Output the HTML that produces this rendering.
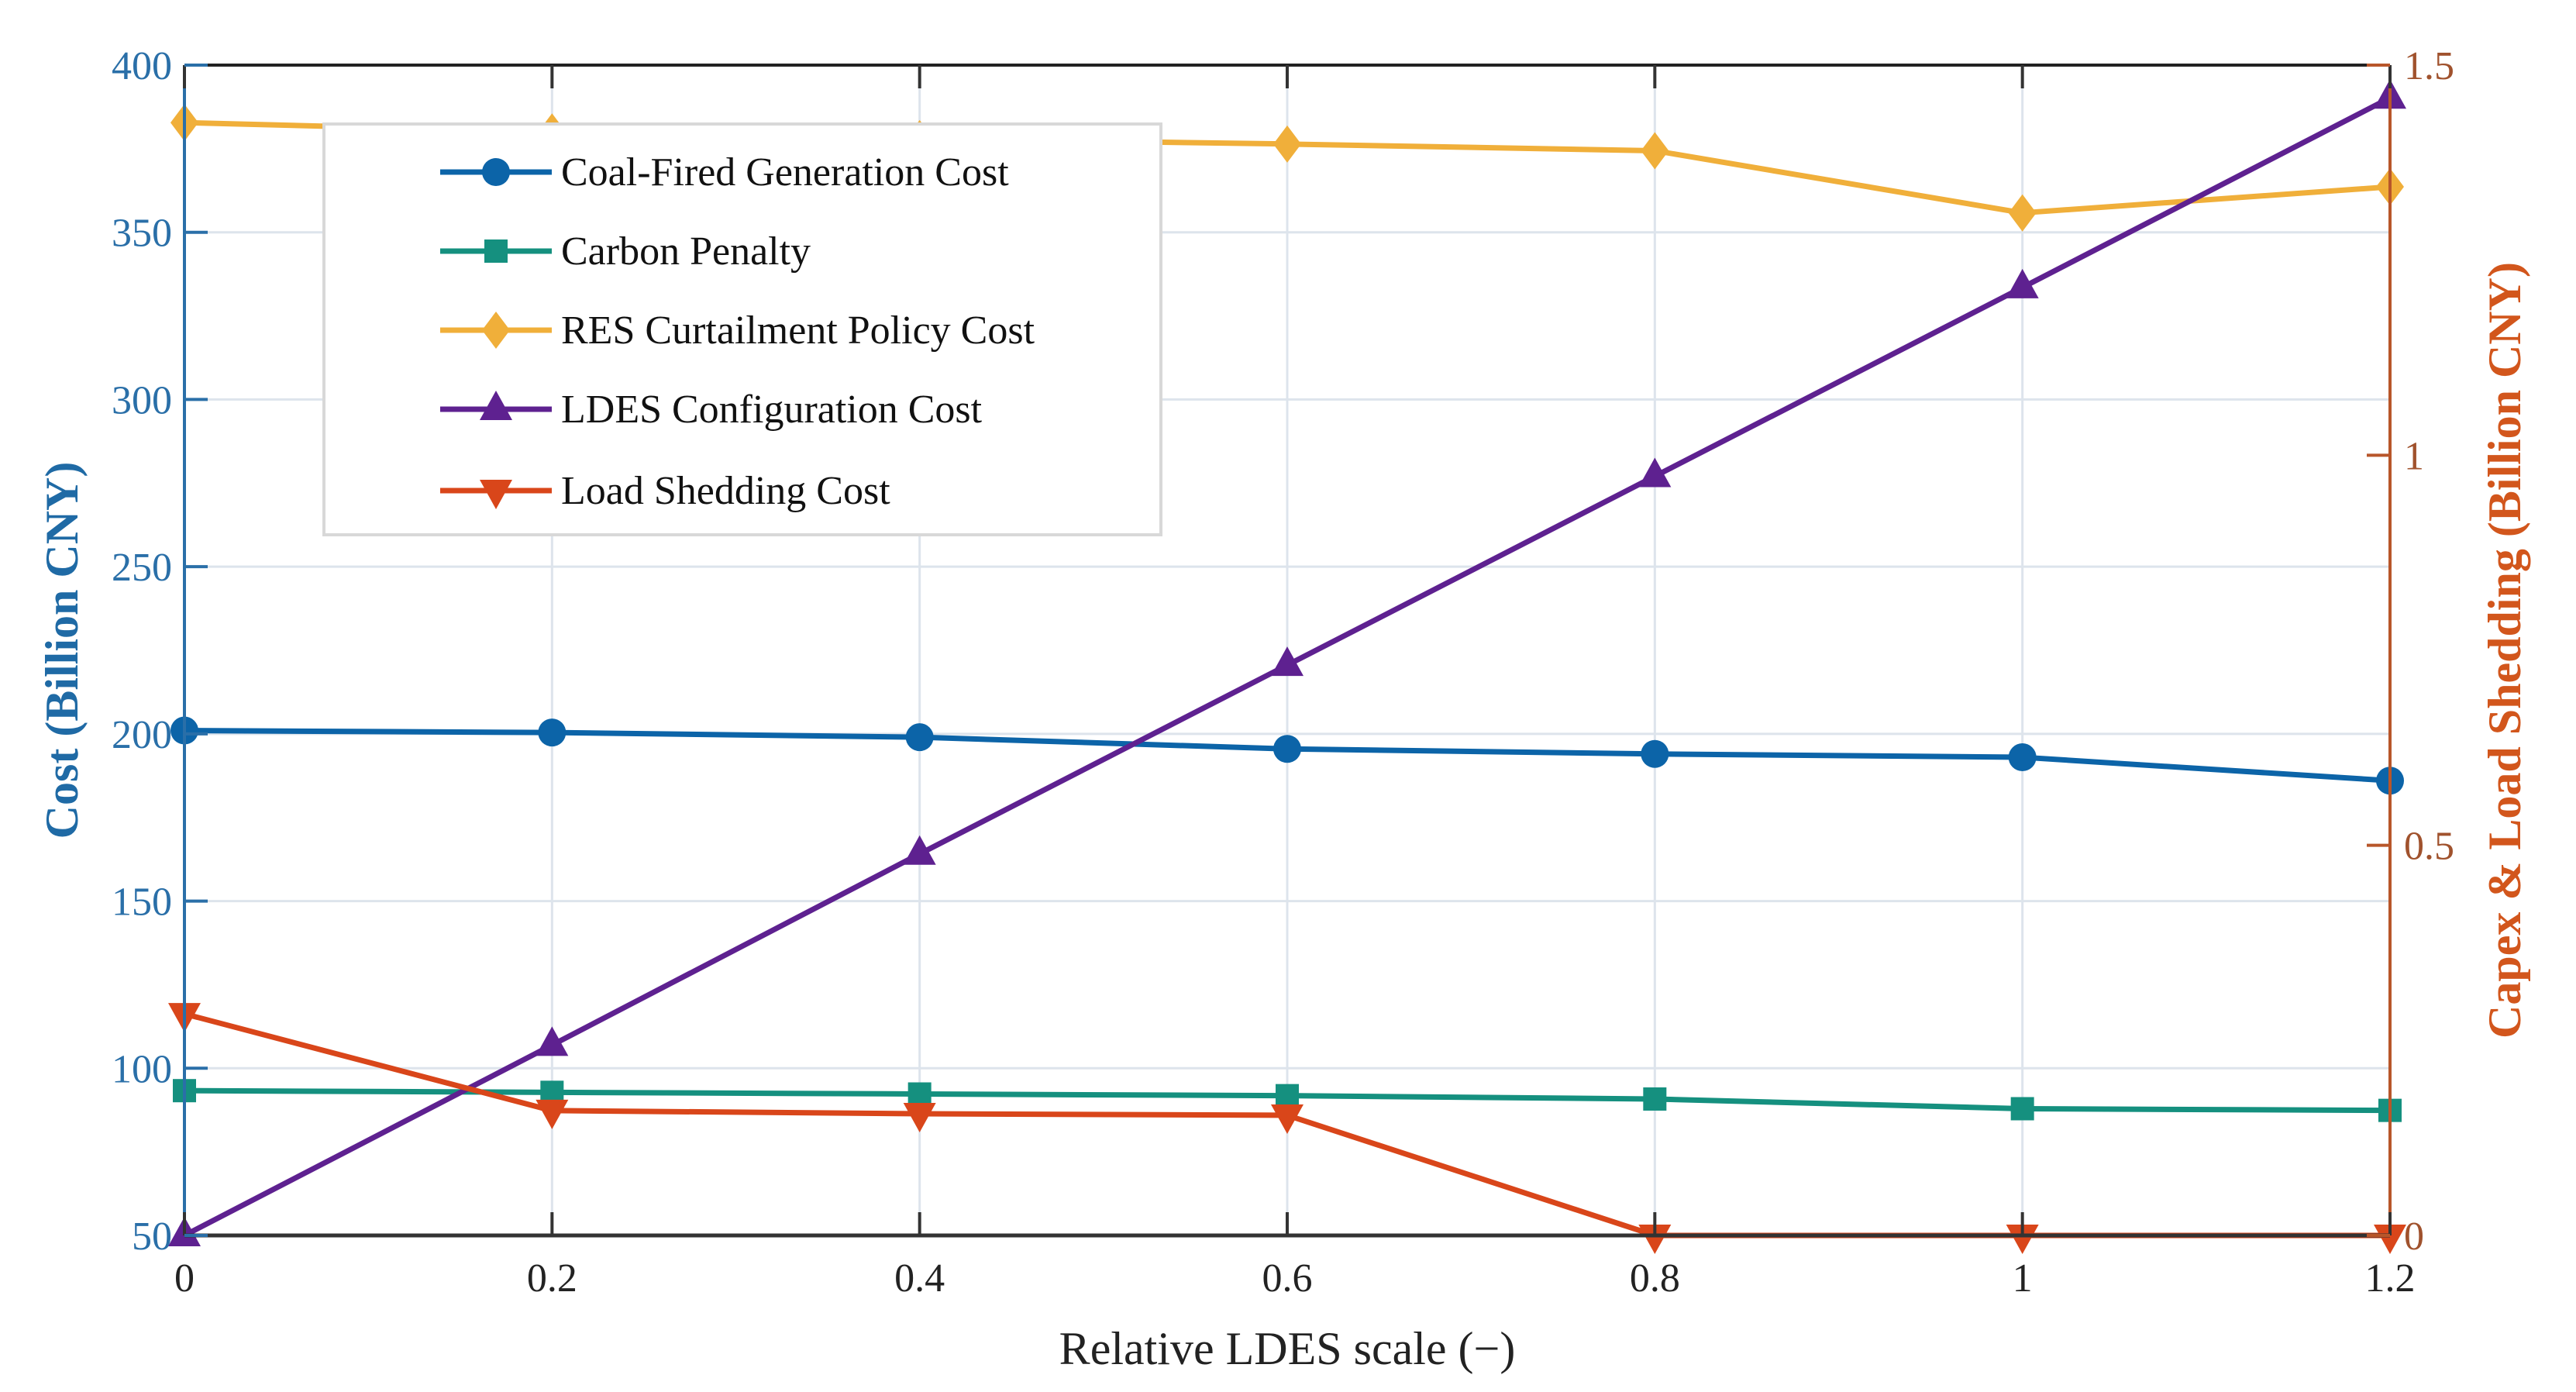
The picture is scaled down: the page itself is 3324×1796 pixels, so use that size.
<!DOCTYPE html>
<html><head><meta charset="utf-8"><style>
html,body{margin:0;padding:0;background:#fff;}
svg{display:block;font-family:"Liberation Serif",serif;}
</style></head><body>
<svg id="chart" width="3324" height="1796" viewBox="0 0 3324 1796" xmlns="http://www.w3.org/2000/svg">
<rect width="3324" height="1796" fill="#fff"/>
<g id="grid"></g>
<g id="series"></g>
<g id="axes"></g>
<g id="legend"></g>
</svg>
<script>
const xValues=[0,0.2,0.4,0.6,0.8,1.0,1.2];
const xTicks=[0,0.2,0.4,0.6,0.8,1,1.2];
const xTickLabels=["0","0.2","0.4","0.6","0.8","1","1.2"];
const leftTicks=[50,100,150,200,250,300,350,400];
const rightTicks=[0,0.5,1,1.5];
const rightTickLabels=["0","0.5","1","1.5"];
const coalCost=[201,200.4,199,195.5,194,193,186];
const carbonPenalty=[93.3,92.8,92.3,91.8,90.8,87.9,87.4];
const resCurtailment=[382.8,380,378,376.4,374.4,355.8,363.6];
const ldesCost=[0,0.244,0.489,0.731,0.973,1.215,1.458];
const loadShedding=[0.284,0.16,0.156,0.154,0,0,0];

const L=238,R=3084,T=84,B=1594;
const NS="http://www.w3.org/2000/svg";
function X(v){return L+(v-0)/(1.2-0)*(R-L);}
function YL(v){return B-(v-50)/(400-50)*(B-T);}
function YR(v){return B-(v-0)/(1.5-0)*(B-T);}
function mk(tag,attrs,parent){const e=document.createElementNS(NS,tag);for(const k in attrs)e.setAttribute(k,attrs[k]);parent.appendChild(e);return e;}
const grid=document.getElementById('grid'),ser=document.getElementById('series'),ax=document.getElementById('axes'),leg=document.getElementById('legend');

xTicks.forEach(t=>{const l=mk('line',{x1:X(t),x2:X(t),y1:T,y2:B,stroke:'#dde4ec','stroke-width':3},grid);

});
leftTicks.forEach(t=>{const l=mk('line',{x1:L,x2:R,y1:YL(t),y2:YL(t),stroke:'#dde4ec','stroke-width':3},grid);

});

function marker(type,x,y,color,g){
  let e;
  if(type==='circle')e=mk('circle',{cx:x,cy:y,r:18,fill:color},g);
  else if(type==='square')e=mk('rect',{x:x-15,y:y-15,width:30,height:30,fill:color},g);
  else if(type==='diamond')e=mk('polygon',{points:`${x},${y-24} ${x+18},${y} ${x},${y+24} ${x-18},${y}`,fill:color},g);
  else if(type==='up')e=mk('polygon',{points:`${x},${y-24} ${x+21},${y+14} ${x-21},${y+14}`,fill:color},g);
  else e=mk('polygon',{points:`${x-21},${y-14} ${x+21},${y-14} ${x},${y+24}`,fill:color},g);
  return e;
}
const seriesDefs=[
 {name:'coal-fired-generation-cost',data:coalCost,y:YL,color:'#0c64a8',m:'circle',label:'Coal-Fired Generation Cost'},
 {name:'carbon-penalty',data:carbonPenalty,y:YL,color:'#15907f',m:'square',label:'Carbon Penalty'},
 {name:'res-curtailment-policy-cost',data:resCurtailment,y:YL,color:'#f0af3a',m:'diamond',label:'RES Curtailment Policy Cost'},
 {name:'ldes-configuration-cost',data:ldesCost,y:YR,color:'#5e2190',m:'up',label:'LDES Configuration Cost'},
 {name:'load-shedding-cost',data:loadShedding,y:YR,color:'#d9461a',m:'down',label:'Load Shedding Cost'}
];
seriesDefs.forEach(sd=>{
  const g=mk('g',{},ser);
  
  
  const pts=sd.data.map((v,i)=>X(xValues[i])+','+sd.y(v)).join(' ');
  const pl=mk('polyline',{points:pts,fill:'none',stroke:sd.color,'stroke-width':7,'stroke-linejoin':'round'},g);
  
  
  sd.data.forEach((v,i)=>{const m=marker(sd.m,X(xValues[i]),sd.y(v),sd.color,g);
    
    });
});

const topBorder=mk('line',{x1:L,x2:R,y1:T,y2:T,stroke:'#222','stroke-width':4},ax);


const xAxisLine=mk('line',{x1:L,x2:R,y1:B,y2:B,stroke:'#333','stroke-width':5},ax);


const leftAxisLine=mk('line',{x1:L,x2:L,y1:T,y2:B,stroke:'#2a6fa8','stroke-width':4},ax);


const rightAxisLine=mk('line',{x1:R,x2:R,y1:T,y2:B,stroke:'#b8562a','stroke-width':4},ax);



xTicks.forEach((t,i)=>{
  mk('line',{x1:X(t),x2:X(t),y1:B,y2:B-30,stroke:'#333','stroke-width':4},ax);
  mk('line',{x1:X(t),x2:X(t),y1:T,y2:T+30,stroke:'#333','stroke-width':4},ax);
  const tx=mk('text',{x:X(t),y:B+72,'text-anchor':'middle','font-size':52,fill:'#222'},ax);
  tx.textContent=xTickLabels[i];
  
  
});
leftTicks.forEach(t=>{
  mk('line',{x1:L,x2:L+30,y1:YL(t),y2:YL(t),stroke:'#2a6fa8','stroke-width':4},ax);
  const tx=mk('text',{x:L-16,y:YL(t)+18,'text-anchor':'end','font-size':52,fill:'#2a6fa8'},ax);
  tx.textContent=String(t);
  
  
});
rightTicks.forEach((t,i)=>{
  mk('line',{x1:R,x2:R-30,y1:YR(t),y2:YR(t),stroke:'#b8562a','stroke-width':4},ax);
  const tx=mk('text',{x:R+18,y:YR(t)+18,'text-anchor':'start','font-size':52,fill:'#a0522d'},ax);
  tx.textContent=rightTickLabels[i];
  
  
});
const xt=mk('text',{x:(L+R)/2,y:1760,'text-anchor':'middle','font-size':60,fill:'#222'},ax);
xt.textContent='Relative LDES scale (−)';


const yt=mk('text',{x:0,y:0,'text-anchor':'middle','font-size':60,'font-weight':'bold',fill:'#1f6aa5',transform:`translate(100,${(T+B)/2}) rotate(-90)`},ax);
yt.textContent='Cost (Billion CNY)';


const yt2=mk('text',{x:0,y:0,'text-anchor':'middle','font-size':60,'font-weight':'bold',fill:'#d2561c',transform:`translate(3252,${(T+B)/2}) rotate(-90)`},ax);
yt2.textContent='Capex & Load Shedding (Billion CNY)';



const box=mk('rect',{x:418,y:160,width:1080,height:530,fill:'#fff',stroke:'#d8d8d8','stroke-width':4},leg);


const rowsY=[222,324,426,528,633];
seriesDefs.forEach((sd,i)=>{
  const g=mk('g',{},leg);
  
  
  mk('line',{x1:568,x2:712,y1:rowsY[i],y2:rowsY[i],stroke:sd.color,'stroke-width':7},g);
  marker(sd.m,640,rowsY[i],sd.color,g);
  const t=mk('text',{x:724,y:rowsY[i]+17,'font-size':52,fill:'#111'},g);
  t.textContent=sd.label;
});
</script>
</body></html>
